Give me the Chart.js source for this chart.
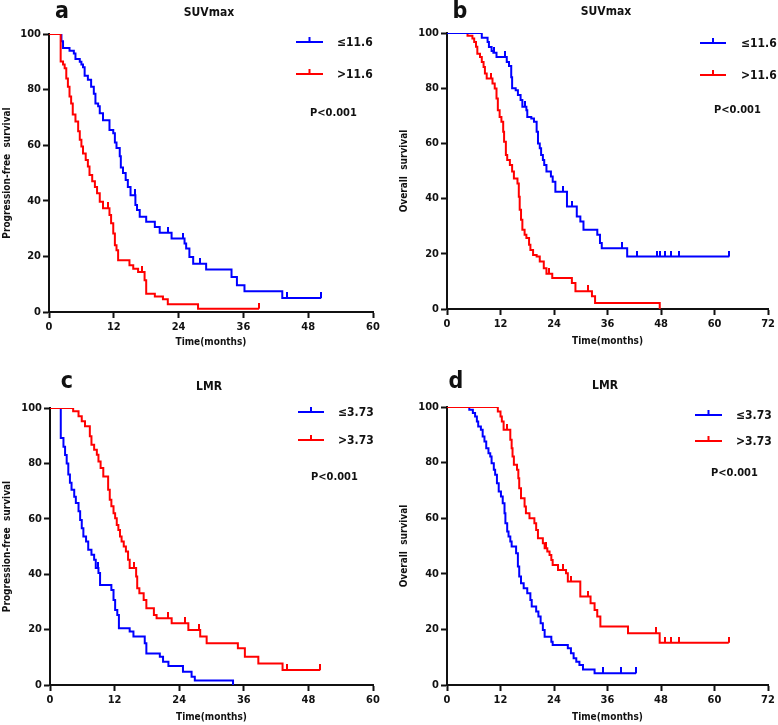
<!DOCTYPE html>
<html>
<head>
<meta charset="utf-8">
<script src="https://cdn.jsdelivr.net/npm/chart.js@4.4.1/dist/chart.umd.min.js"></script>
<style>
  html, body { margin: 0; padding: 0; background: #fff; }
  #wrap { position: relative; width: 778px; height: 725px; overflow: hidden; }
  .panel { position: absolute; }
  .panel canvas { display: block; }
</style>
</head>
<body>
<div id="wrap">
  <div class="panel" style="left:0;top:0"><canvas id="cA" width="389" height="362"></canvas></div>
  <div class="panel" style="left:389px;top:0"><canvas id="cB" width="389" height="362"></canvas></div>
  <div class="panel" style="left:0;top:362px"><canvas id="cC" width="389" height="363"></canvas></div>
  <div class="panel" style="left:389px;top:362px"><canvas id="cD" width="389" height="363"></canvas></div>
</div>
<script>
// 字体：粗体窄字
const FONT = "'Liberation Sans Narrow', 'DejaVu Sans Condensed', 'Arial Narrow', sans-serif";
const BLUE = '#0000ff';
const RED = '#ff0000';

// ---- a: PFS, SUVmax ----
const aLowTime = [2.3,2.6,3.8,4.6,4.9,5.7,6.0,6.3,6.6,7.2,7.8,8.3,8.6,9.1,9.4,10.0,11.2,11.9,12.2,12.5,13.1,13.3,13.7,14.2,14.6,15.1,16.0,16.3,16.8,18.0,19.6,20.5,22.7,25.1,25.4,26.0,26.7,29.1,33.8,34.8,36.2,43.2];
const aLowSurv = [97.4,95,94,93,91,90,89,88,85,83.5,81,78.5,75,74,71.5,69,65.5,64.3,61,59,56,52,50,47.5,45,42,38.5,36.7,34.3,32.5,30.6,28.5,26.4,24.6,22.8,19.8,17.4,15.3,12.6,9.6,7.5,5.0];
const aLowCens = [15.9,22.0,24.9,27.9,44.1,50.4];
const aHighTime = [2.16,2.6,2.9,3.2,3.5,3.8,4.1,4.4,4.9,5.4,5.7,6.0,6.3,6.8,7.2,7.5,8.0,8.5,8.9,9.4,10.0,11.2,11.5,11.9,12.2,12.5,12.8,14.9,15.6,16.5,17.7,18.0,19.6,21.1,22.0,27.6];
const aHighSurv = [90.1,89,87.7,84,81,77.5,75,71,68.5,65,62,59.5,57,54.7,52.3,49.3,47,45,42.7,39.7,37.3,34.9,31.9,28.2,24,22.2,18.6,16.8,15.6,14.4,11.4,6.6,5.6,4.6,2.8,1.2];
const aHighCens = [11.0,17.2,38.9];

// ---- b: OS, SUVmax ----
const bLowTime = [7.8,9.1,9.4,10.0,10.4,11.1,13.4,13.9,14.4,14.6,15.4,15.9,16.5,16.9,17.8,18.0,18.9,19.5,20.1,20.4,20.8,21.1,21.5,21.8,22.3,23.3,23.7,24.3,26.9,29.1,29.9,30.6,33.7,34.3,34.7,40.4];
const bLowSurv = [98.3,96.7,94.9,93.5,92.8,91.3,89.5,88,84,80,79.3,77.5,75.7,73.3,72,69.6,69,67.8,64.2,60,58.2,55.8,54,52.2,49.8,48,46.1,42.5,37.1,33.5,31.7,28.7,26.9,23.9,22,19];
const bLowCens = [10.5,12.9,17.6,26.0,28.0,39.2,42.5,47.0,47.7,48.8,50.3,52.0,63.3];
const bHighTime = [4.6,5.7,6.1,6.5,6.8,7.4,7.8,8.2,8.5,8.9,10.2,10.7,11.1,11.4,11.8,12.2,12.6,12.8,13.2,13.5,14.1,14.6,15.0,15.8,16.1,16.3,16.6,16.9,17.4,17.8,18.4,18.7,19.3,20.1,20.8,21.7,22.3,23.6,28.0,28.8,32.5,33.2,47.7];
const bHighSurv = [99,98,96.7,95,92.5,91.3,89.5,87.7,85.3,83.5,81.7,79.9,76.3,72,69.6,67.8,64.2,60.6,55.8,54,52.2,49.8,47.3,45.5,40.7,36,32.3,28.7,26.9,25.7,23.3,21.4,19.6,19,17.2,14.8,12.8,11.2,9.4,6.4,4.6,2.2,0];
const bHighCens = [9.8,22.8,31.7];

// ---- c: PFS, LMR ----
const cLowTime = [2.0,2.5,2.8,3.1,3.4,3.7,4.0,4.5,4.8,5.3,5.6,5.9,6.2,6.7,7.1,7.7,8.2,8.5,9.0,9.3,11.4,11.8,12.1,12.5,12.8,14.8,15.5,17.6,17.9,20.4,21.0,22.0,24.7,26.3,26.9,34.0];
const cLowSurv = [89.2,86,83,80,76,73,70.5,68,65.7,62.7,59.6,56.6,53.6,51.8,48.8,47,45.2,42.2,40.4,36.1,34.3,30.7,27.1,25.3,20.5,19.3,17.5,15.1,11.4,10.2,8.4,6.9,4.8,3,1.6,0];
const cLowCens = [8.9];
const cHighTime = [4.3,5.3,5.9,6.5,7.4,7.7,8.2,8.7,9.0,9.4,9.9,10.8,11.1,11.4,11.8,12.1,12.4,12.7,13.0,13.3,13.7,14.1,14.5,14.8,16.0,16.2,16.6,17.4,17.9,19.3,19.8,22.6,25.7,27.9,29.1,34.9,36.2,38.7,43.2];
const cHighSurv = [98.8,97,95.2,93.4,89.8,86.7,84.9,83.1,80.7,78.3,75.3,70.5,66.9,64.5,62,60.2,57.8,56,53.6,51.8,50,48.2,45.2,42.2,39.2,34.9,33.1,30.7,27.7,25.3,24.1,22.3,19.9,17.5,15.1,13.3,10.2,7.8,5.4];
const cHighCens = [15.6,22.0,25.0,27.7,44.0,50.2];

// ---- d: OS, LMR ----
const dLowTime = [5.0,5.8,6.3,6.7,7.0,7.6,8.0,8.4,8.8,9.3,9.7,10.0,10.5,10.8,11.2,11.6,12.1,12.5,12.9,13.1,13.5,13.8,14.2,14.5,15.5,15.9,16.2,16.6,17.2,18.0,18.7,19.0,20.0,20.5,21.0,21.5,21.9,23.4,23.7,27.1,27.8,28.4,29.0,29.7,30.5,33.1];
const dLowSurv = [99,97.8,96.6,94.8,93,91.8,89.4,87.6,85.2,83.4,82.2,79.8,77.4,75.6,72.6,69.6,67.8,65.4,61.8,58.2,55.2,53.4,51.6,49.8,47.4,42.6,39,36.6,34.8,33,30.6,28.2,26.4,24.6,22.2,19.8,17.4,15.6,14.4,13.2,11.4,9.6,8.4,7.2,5.6,4.2];
const dLowCens = [4.5,35.0,39.1,42.4];
const dHighTime = [11.4,12.0,12.3,12.7,14.2,14.5,14.7,15.0,15.7,16.0,16.2,16.6,17.4,17.7,18.5,19.6,20.0,20.4,21.5,21.9,22.5,23.0,23.4,23.7,24.9,26.7,27.1,29.9,32.2,33.1,33.7,34.4,40.6,47.7];
const dHighSurv = [98.4,96.6,94.8,91.8,88.2,85.2,82.2,79.2,77.4,74.4,70.8,67.2,64.2,61.8,60,58.2,55.8,52.8,51,49.2,48,46.8,45,43.2,41.4,40.2,37.2,31.8,29.4,27,24.6,21,18.6,15.2];
const dHighCens = [9.9,10.8,13.5,22.3,26.0,27.8,31.6,46.9,48.8,50.3,52.0,63.2];

// 文本
const panelLetters = ['a', 'b', 'c', 'd'];
const panelTitles = ['SUVmax', 'SUVmax', 'LMR', 'LMR'];
const yTitles = ['Progression-free  survival', 'Overall  survival', 'Progression-free  survival', 'Overall  survival'];
const xTitle = 'Time(months)';
const lowLabels = ['≤11.6', '≤11.6', '≤3.73', '≤3.73'];
const highLabels = ['>11.6', '>11.6', '>3.73', '>3.73'];
const pText = 'P<0.001';
const xMaxes = [60, 72, 60, 72];
const yTicksStep = 20;
const xTicksStep = 12;

// 版面位置（页面坐标）
const layouts = [
  { id: 'cA', box: [0, 0, 389, 362], area: [49, 34, 373, 312], yTitleX: 7, xPad: 13,
    letter: [62, 18], title: [209, 16], leg: [296, 323, 42, 74, 337], p: [310, 113], redTop: true },
  { id: 'cB', box: [389, 0, 389, 362], area: [447, 33, 770, 309], yTitleX: 404, xPad: 14,
    letter: [460, 18], title: [606, 15], leg: [700, 726, 43, 75, 741], p: [714, 110], redTop: false },
  { id: 'cC', box: [0, 362, 389, 363], area: [50, 408, 373, 685], yTitleX: 7, xPad: 1,
    letter: [67, 388], title: [209, 390], leg: [298, 324, 412, 440, 338], p: [311, 477], redTop: true },
  { id: 'cD', box: [389, 362, 389, 363], area: [447, 407, 768, 685], yTitleX: 404, xPad: 1,
    letter: [456, 388], title: [605, 389], leg: [695, 722, 415, 441, 736], p: [711, 473], redTop: true },
];

const series = [
  [aLowTime, aLowSurv, aLowCens, aHighTime, aHighSurv, aHighCens],
  [bLowTime, bLowSurv, bLowCens, bHighTime, bHighSurv, bHighCens],
  [cLowTime, cLowSurv, cLowCens, cHighTime, cHighSurv, cHighCens],
  [dLowTime, dLowSurv, dLowCens, dHighTime, dHighSurv, dHighCens],
];

// 阶梯曲线点
function curvePoints(times, surv, cens) {
  const pts = [{ x: 0, y: 100 }];
  times.forEach((t, i) => pts.push({ x: t, y: surv[i] }));
  const last = times[times.length - 1];
  const end = Math.max(...cens, last);
  if (end > last) pts.push({ x: end, y: surv[surv.length - 1] });
  return pts;
}
function survAt(times, surv, t) {
  let s = 100;
  times.forEach((tt, i) => { if (tt <= t) s = surv[i]; });
  return s;
}
function censorPoints(times, surv, cens) {
  return cens.map(t => ({ x: t, y: survAt(times, surv, t) }));
}

// 删失标记：向上的小竖线
function tickImage(color) {
  const c = document.createElement('canvas');
  c.width = 2; c.height = 12;
  const g = c.getContext('2d');
  g.fillStyle = color;
  g.fillRect(0, 0, 2, 6);
  return c;
}
const blueTick = tickImage(BLUE);
const redTick = tickImage(RED);

const textPlugin = {
  id: 'kmText',
  afterDraw(chart) {
    const o = chart.options.plugins.kmText;
    const L = o.layout;
    const ox = L.box[0], oy = L.box[1];
    const ctx = chart.ctx;
    ctx.save();
    ctx.fillStyle = '#111';
    ctx.textBaseline = 'alphabetic';
    ctx.textAlign = 'center';
    ctx.font = 'bold 23px ' + FONT;
    ctx.fillText(o.letter, L.letter[0] - ox, L.letter[1] - oy);
    ctx.font = 'bold 12px ' + FONT;
    ctx.fillText(o.title, L.title[0] - ox, L.title[1] - oy);
    // 图例
    const [x1, x2, yb, yr, tx] = L.leg;
    [[BLUE, yb, o.low], [RED, yr, o.high]].forEach(([col, y, label]) => {
      ctx.strokeStyle = col;
      ctx.lineWidth = 2;
      ctx.beginPath();
      ctx.moveTo(x1 - ox, y - oy); ctx.lineTo(x2 - ox, y - oy);
      const mx = (x1 + x2) / 2 - ox;
      ctx.moveTo(mx, y - oy); ctx.lineTo(mx, y - oy - 5);
      ctx.stroke();
      ctx.font = 'bold 12px ' + FONT;
      ctx.textAlign = 'left';
      ctx.textBaseline = 'middle';
      ctx.fillText(label, tx - ox, y - oy + 1);
    });
    ctx.font = 'bold 11px ' + FONT;
    ctx.fillText(pText, L.p[0] - ox, L.p[1] - oy);
    ctx.restore();
  }
};

layouts.forEach((L, k) => {
  const [lowT, lowS, lowC, highT, highS, highC] = series[k];
  const [bl, bt, bw, bh] = L.box;
  const [al, at, ar, ab] = L.area;
  const tickFont = { family: FONT, size: 11, weight: 'bold' };
  const titleFont = { family: FONT, size: 10, weight: 'bold' };
  const lowDs = [
    { data: curvePoints(lowT, lowS, lowC), borderColor: BLUE, borderWidth: 2, stepped: 'before', pointRadius: 0, fill: false },
    { data: censorPoints(lowT, lowS, lowC), showLine: false, pointStyle: blueTick, pointRadius: 3, borderColor: BLUE, backgroundColor: BLUE },
  ];
  const highDs = [
    { data: curvePoints(highT, highS, highC), borderColor: RED, borderWidth: 2, stepped: 'before', pointRadius: 0, fill: false },
    { data: censorPoints(highT, highS, highC), showLine: false, pointStyle: redTick, pointRadius: 3, borderColor: RED, backgroundColor: RED },
  ];
  // 索引靠前的数据集画在上层
  const datasets = L.redTop ? highDs.concat(lowDs) : lowDs.concat(highDs);

  new Chart(document.getElementById(L.id), {
    type: 'line',
    data: { datasets },
    options: {
      responsive: false,
      animation: false,
      layout: { padding: { left: 0, top: at - bt, right: bl + bw - ar, bottom: 0 } },
      plugins: {
        legend: { display: false },
        tooltip: { enabled: false },
        kmText: {
          layout: L, letter: panelLetters[k], title: panelTitles[k],
          low: lowLabels[k], high: highLabels[k]
        }
      },
      scales: {
        x: {
          type: 'linear', min: 0, max: xMaxes[k],
          afterFit: s => { s.height = bt + bh - ab; },
          ticks: { stepSize: xTicksStep, color: '#111', font: tickFont, padding: 3, maxRotation: 0 },
          grid: { drawOnChartArea: false, drawTicks: true, tickLength: 6, tickColor: '#111', tickWidth: 2 },
          border: { color: '#111', width: 2 },
          title: { display: true, text: xTitle, color: '#111', font: titleFont, padding: { top: 0, bottom: L.xPad + 1 } }
        },
        y: {
          type: 'linear', min: 0, max: 100,
          afterFit: s => { s.width = al - bl; },
          ticks: { stepSize: yTicksStep, color: '#111', font: tickFont, padding: 2 },
          grid: { drawOnChartArea: false, drawTicks: true, tickLength: 6, tickColor: '#111', tickWidth: 2 },
          border: { color: '#111', width: 2 },
          title: { display: true, text: yTitles[k], color: '#111', font: titleFont, padding: { top: L.yTitleX - bl - 6, bottom: 0 } }
        }
      }
    },
    plugins: [textPlugin]
  });
});
</script>
</body>
</html>
